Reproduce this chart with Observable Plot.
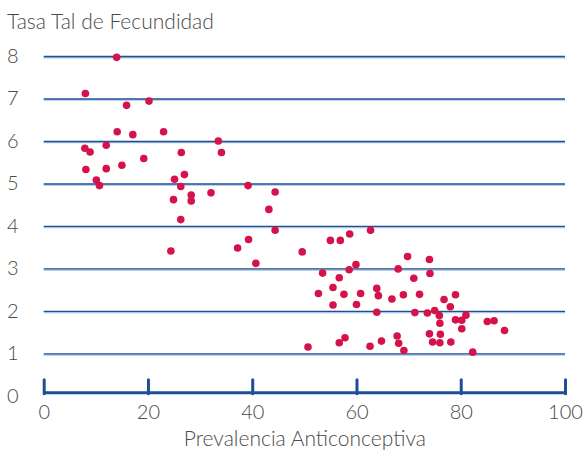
<!DOCTYPE html>
<html>
<head>
<meta charset="utf-8">
<script src="https://cdn.jsdelivr.net/npm/d3@7"></script>
<script src="https://cdn.jsdelivr.net/npm/@observablehq/plot@0.6"></script>
<style>
  html, body { margin: 0; padding: 0; background: #fff; }
  #wrap { position: relative; width: 585px; height: 451px; }
  #title { position: absolute; left: 7px; top: 10px; font-family: Lato, sans-serif; font-weight: 300; font-size: 21px; line-height: 21px; color: #4a4a4a; white-space: nowrap; }
  svg text { font-weight: 300; }
</style>
</head>
<body>
<div id="wrap">
  <div id="title">Tasa Tal de Fecundidad</div>
</div>
<script>
// Prevalencia anticonceptiva (%)
const prevalencia = [
  13.9, 7.9, 15.8, 20.1, 14.0, 17.0, 22.9, 7.8, 8.8, 11.9,
  8.0, 11.9, 14.9, 19.1, 10.0, 10.6, 26.3, 25.0, 26.9, 26.2,
  28.2, 28.2, 24.8, 32.0, 33.4, 34.0, 39.1, 44.3, 43.1, 26.2,
  24.3, 37.1, 39.2, 40.6, 44.3,
  49.5, 54.9, 56.8, 58.6, 62.6, 53.4, 56.6, 58.5, 59.8, 52.6,
  55.4, 57.5, 60.7, 55.4, 59.9, 63.8, 64.1, 63.8, 66.7, 68.9,
  72.0, 67.9, 69.7, 70.9, 73.9, 74.0, 71.1, 73.5, 74.9, 75.8,
  75.9, 76.7, 77.9, 78.9, 78.9, 80.1, 80.9, 80.1, 85.0, 86.3,
  88.3, 73.9, 76.0, 74.5, 75.9, 78.0, 67.7, 68.0, 69.0, 64.7,
  62.5, 57.7, 56.6, 50.6, 82.2
];
// Tasa global de fecundidad
const fecundidad = [
  7.98, 7.13, 6.85, 6.95, 6.23, 6.16, 6.23, 5.84, 5.75, 5.91,
  5.34, 5.36, 5.44, 5.60, 5.09, 4.96, 5.74, 5.11, 5.22, 4.94,
  4.74, 4.60, 4.63, 4.79, 6.01, 5.74, 4.96, 4.81, 4.40, 4.16,
  3.42, 3.49, 3.69, 3.13, 3.91,
  3.40, 3.67, 3.67, 3.82, 3.91, 2.90, 2.79, 2.98, 3.10, 2.42,
  2.56, 2.40, 2.42, 2.15, 2.16, 2.54, 2.37, 1.98, 2.29, 2.39,
  2.40, 3.00, 3.29, 2.78, 3.22, 2.89, 1.97, 1.96, 2.02, 1.90,
  1.72, 2.28, 2.11, 2.39, 1.80, 1.79, 1.91, 1.59, 1.76, 1.78,
  1.55, 1.47, 1.46, 1.28, 1.26, 1.28, 1.42, 1.25, 1.08, 1.30,
  1.18, 1.38, 1.26, 1.16, 1.04
];
const xTicks = [0, 20, 40, 60, 80, 100];
const yTicks = [0, 1, 2, 3, 4, 5, 6, 7, 8];
const gridLines = [1, 2, 3, 4, 5, 6, 7, 8];

const data = prevalencia.map((p, i) => ({p, f: fecundidad[i]}));

const blue = "#1c4f93";
const lightBlue = "#a8c3e3";
const textColor = "#4a4a4a";
const dotColor = "#d6124a";
const tickLine = {draw(context, l) { context.moveTo(0, 0); context.lineTo(0, -l); }};

const chart = Plot.plot({
  width: 585,
  height: 451,
  marginLeft: 43.7,
  marginRight: 20,
  marginTop: 56,
  marginBottom: 55.2,
  style: {fontFamily: "Lato, sans-serif", background: "transparent"},
  x: {domain: [0, 100]},
  y: {domain: [0, 8]},
  marks: [
    Plot.ruleY(gridLines, {stroke: lightBlue, strokeWidth: 1.4, dy: 1.2}),
    Plot.ruleY(gridLines, {stroke: blue, strokeWidth: 1.4}),
    Plot.ruleY([0], {stroke: blue, strokeWidth: 3, dy: -3.5}),
    Plot.vector(xTicks, {x: d => d, y: () => 0, length: 14, anchor: "start", shape: tickLine, stroke: blue, strokeWidth: 3, dy: -2.5}),
    Plot.axisY(yTicks, {tickSize: 0, tickPadding: 25.5, fontSize: 20, fill: textColor, label: null}),
    Plot.axisX(xTicks, {tickSize: 0, tickPadding: 8, fontSize: 20, fill: textColor,
      label: "Prevalencia Anticonceptiva", labelAnchor: "center", labelArrow: "none", labelOffset: 50}),
    Plot.dot(data, {x: "p", y: "f", r: 3.8, fill: dotColor, stroke: "none"})
  ]
});
chart.style.position = "absolute";
chart.style.left = "0";
chart.style.top = "0";
chart.querySelectorAll("g[aria-label='x-axis label'] text").forEach(t => t.style.fontSize = "21px");
document.getElementById("wrap").prepend(chart);
</script>
</body>
</html>
